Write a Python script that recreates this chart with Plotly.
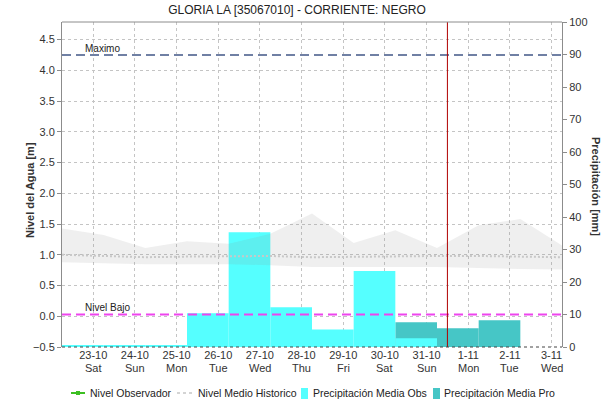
import plotly.graph_objects as go

# ---------------------------------------------------------------- data
titulo = "GLORIA LA [35067010] - CORRIENTE: NEGRO"

dias = ["2021-10-23", "2021-10-24", "2021-10-25", "2021-10-26", "2021-10-27", "2021-10-28",
        "2021-10-29", "2021-10-30", "2021-10-31", "2021-11-01", "2021-11-02", "2021-11-03"]
etiquetas_dia = ["23-10", "24-10", "25-10", "26-10", "27-10", "28-10",
                 "29-10", "30-10", "31-10", "1-11", "2-11", "3-11"]
dias_semana = ["Sat", "Sun", "Mon", "Tue", "Wed", "Thu", "Fri", "Sat", "Sun", "Mon", "Tue", "Wed"]

# historical level envelope, sampled at the start of each hydrological day (06:00)
historico_horas = ["2021-10-22 06:00", "2021-10-23 06:00", "2021-10-24 06:00", "2021-10-25 06:00",
                   "2021-10-26 06:00", "2021-10-27 06:00", "2021-10-28 06:00", "2021-10-29 06:00",
                   "2021-10-30 06:00", "2021-10-31 06:00", "2021-11-01 06:00", "2021-11-02 06:00",
                   "2021-11-03 06:00"]
historico_max = [1.425, 1.32, 1.11, 1.22, 1.18, 1.34, 1.67, 1.19, 1.40, 1.11, 1.48, 1.58, 1.15]
historico_min = [0.88, 0.86, 0.845, 0.845, 0.845, 0.83, 0.80, 0.80, 0.80, 0.80, 0.79, 0.77, 0.76]
historico_medio = [1.00, 0.98, 0.96, 0.97, 0.97, 0.98, 0.96, 0.97, 0.97, 0.98, 0.98, 0.97, 0.96]

# daily precipitation (mm), each bar covers 06:00 -> 06:00
precip_obs_inicio = ["2021-10-22 06:00", "2021-10-23 06:00", "2021-10-24 06:00", "2021-10-25 06:00",
                     "2021-10-26 06:00", "2021-10-27 06:00", "2021-10-28 06:00", "2021-10-29 06:00",
                     "2021-10-30 06:00"]
precip_obs_mm = [0.5, 0.5, 0.5, 10.4, 35.3, 12.2, 5.4, 23.4, 2.7]
precip_pro_inicio = ["2021-10-30 06:00", "2021-10-31 06:00", "2021-11-01 06:00"]
precip_pro_mm = [7.6, 5.8, 8.2]

nivel_maximo = 4.25
nivel_bajo = 0.03
fecha_actual = "2021-10-31 12:00"
rango_x = ["2021-10-22 06:00", "2021-11-03 06:00"]

# ---------------------------------------------------------------- style
FUENTE = "Liberation Sans, Arial, sans-serif"
TEXTO = "#333333"
GRID = "#c4c4c4"
EJE = "#8c8c8c"
DIA_MS = 24 * 3600 * 1000
W, H = 615, 405
L, R, T, B = 62, 53, 22, 58


def px_x(px):
    return (px - L) / (W - L - R)


def px_y(py):
    return (H - B - py) / (H - T - B)


fig = go.Figure()

# precipitation bars live on the primary (right-hand, mm) axis
fig.add_trace(go.Bar(x=precip_pro_inicio, y=precip_pro_mm, width=[DIA_MS] * len(precip_pro_mm),
                     offset=0, marker=dict(color="#46c6c6", line=dict(width=0)),
                     name="Precipitación Media Pro", yaxis="y"))
fig.add_trace(go.Bar(x=precip_obs_inicio, y=precip_obs_mm, width=[DIA_MS] * len(precip_obs_mm),
                     offset=0, marker=dict(color="#55ffff", line=dict(width=0)),
                     name="Precipitación Media Obs", yaxis="y"))

# water level series on the overlaid left-hand axis (drawn above the bars)
fig.add_trace(go.Scatter(x=historico_horas + historico_horas[::-1],
                         y=historico_max + historico_min[::-1],
                         fill="toself", fillcolor="rgba(140,140,140,0.14)",
                         line=dict(width=0), mode="lines", hoverinfo="skip",
                         yaxis="y2", showlegend=False))
fig.add_trace(go.Scatter(x=historico_horas, y=historico_medio, mode="lines",
                         line=dict(color="#c8c8c8", width=2, dash="2px,2px"),
                         name="Nivel Medio Historico", yaxis="y2"))
fig.add_trace(go.Scatter(x=rango_x, y=[nivel_maximo, nivel_maximo], mode="lines",
                         line=dict(color="#7080a4", width=2, dash="9px,5px"),
                         name="Maximo", yaxis="y2"))
fig.add_trace(go.Scatter(x=rango_x, y=[nivel_bajo, nivel_bajo], mode="lines",
                         line=dict(color="#ee44ee", width=2, dash="9px,5px"),
                         name="Nivel Bajo", yaxis="y2"))

annotations = [
    dict(x="2021-10-22 18:00", y=nivel_maximo, xref="x", yref="y2", text="Maximo",
         xanchor="left", yanchor="bottom", showarrow=False, yshift=-1,
         font=dict(size=10, color="#222")),
    dict(x="2021-10-22 18:00", y=nivel_bajo, xref="x", yref="y2", text="Nivel Bajo",
         xanchor="left", yanchor="bottom", showarrow=False, yshift=-1,
         font=dict(size=10, color="#222")),
    dict(x=px_x(30), y=px_y(190), xref="paper", yref="paper", text="<b>Nivel del Agua [m]</b>",
         textangle=-90, xanchor="center", yanchor="middle", showarrow=False,
         font=dict(size=11, color=TEXTO)),
    dict(x=px_x(596), y=px_y(186), xref="paper", yref="paper", text="<b>Precipitación [mm]</b>",
         textangle=90, xanchor="center", yanchor="middle", showarrow=False,
         font=dict(size=11, color=TEXTO)),
]

# weekday row under the date labels
for d, s in zip(dias, dias_semana):
    annotations.append(dict(x=d, y=0, xref="x", yref="paper", text=s, showarrow=False,
                            yanchor="middle", yshift=-20.5, font=dict(size=11, color=TEXTO)))

shapes = [
    # current time marker
    dict(type="line", xref="x", yref="paper", x0=fecha_actual, x1=fecha_actual, y0=0, y1=1,
         line=dict(color="#b00000", width=1), layer="above"),
    # frame: solid top, dotted bottom
    dict(type="line", xref="paper", yref="paper", x0=0, x1=1, y0=1, y1=1,
         line=dict(color=EJE, width=1)),
    dict(type="line", xref="paper", yref="paper", x0=0, x1=1, y0=0, y1=0,
         line=dict(color="#444", width=1, dash="dot")),
]

# legend row
ly = px_y(393)
shapes += [
    dict(type="line", xref="paper", yref="paper", x0=px_x(71), x1=px_x(85), y0=ly, y1=ly,
         line=dict(color="#3cbf22", width=2)),
    dict(type="rect", xref="paper", yref="paper", x0=px_x(76), x1=px_x(80),
         y0=px_y(395), y1=px_y(391), line=dict(width=0), fillcolor="#3cbf22"),
    dict(type="line", xref="paper", yref="paper", x0=px_x(177), x1=px_x(192), y0=ly, y1=ly,
         line=dict(color="#d4d4d4", width=2, dash="3px,3px")),
    dict(type="rect", xref="paper", yref="paper", x0=px_x(301), x1=px_x(308),
         y0=px_y(399), y1=px_y(388), line=dict(width=0), fillcolor="#55ffff"),
    dict(type="rect", xref="paper", yref="paper", x0=px_x(433), x1=px_x(440),
         y0=px_y(399), y1=px_y(388), line=dict(width=0), fillcolor="#46c6c6"),
]
for px, txt in [(88, "Nivel Observador"), (196, "Nivel Medio Historico"),
                (311, "Precipitación Media Obs"), (442, "Precipitación Media Pro")]:
    annotations.append(dict(x=px_x(px), y=ly, xref="paper", yref="paper", text=txt,
                            xanchor="left", yanchor="middle", showarrow=False,
                            font=dict(size=10.5, color="#222")))

fig.update_layout(
    width=W, height=H,
    margin=dict(l=L, r=R, t=T, b=B),
    paper_bgcolor="white", plot_bgcolor="white",
    font=dict(family=FUENTE, size=11, color=TEXTO),
    title=dict(text=titulo, x=297 / W, xref="container", xanchor="center",
               y=1 - 10 / H, yref="container", yanchor="middle",
               font=dict(size=12, color="#222")),
    barmode="overlay",
    showlegend=False,
    xaxis=dict(type="date", range=rango_x, tickmode="array", tickvals=dias, ticktext=etiquetas_dia,
               showgrid=True, gridcolor=GRID, griddash="dot", gridwidth=1,
               showline=False, zeroline=False, ticks="", tickfont=dict(size=11, color=TEXTO)),
    yaxis=dict(side="right", range=[0, 100], tickmode="linear", tick0=0, dtick=10,
               showgrid=False, zeroline=False, showline=True, linecolor=EJE, linewidth=1,
               ticks="outside", ticklen=4, tickcolor=EJE, tickfont=dict(size=11, color=TEXTO)),
    yaxis2=dict(side="left", overlaying="y", range=[-0.5, 4.785], tickmode="linear",
                tick0=-0.5, dtick=0.5, tickformat=".1f",
                showgrid=True, gridcolor=GRID, griddash="dot", gridwidth=1,
                zeroline=False, showline=True, linecolor=EJE, linewidth=1,
                ticks="outside", ticklen=4, tickcolor=EJE, tickfont=dict(size=11, color=TEXTO)),
    annotations=annotations,
    shapes=shapes,
)

fig.write_html("out.html")
